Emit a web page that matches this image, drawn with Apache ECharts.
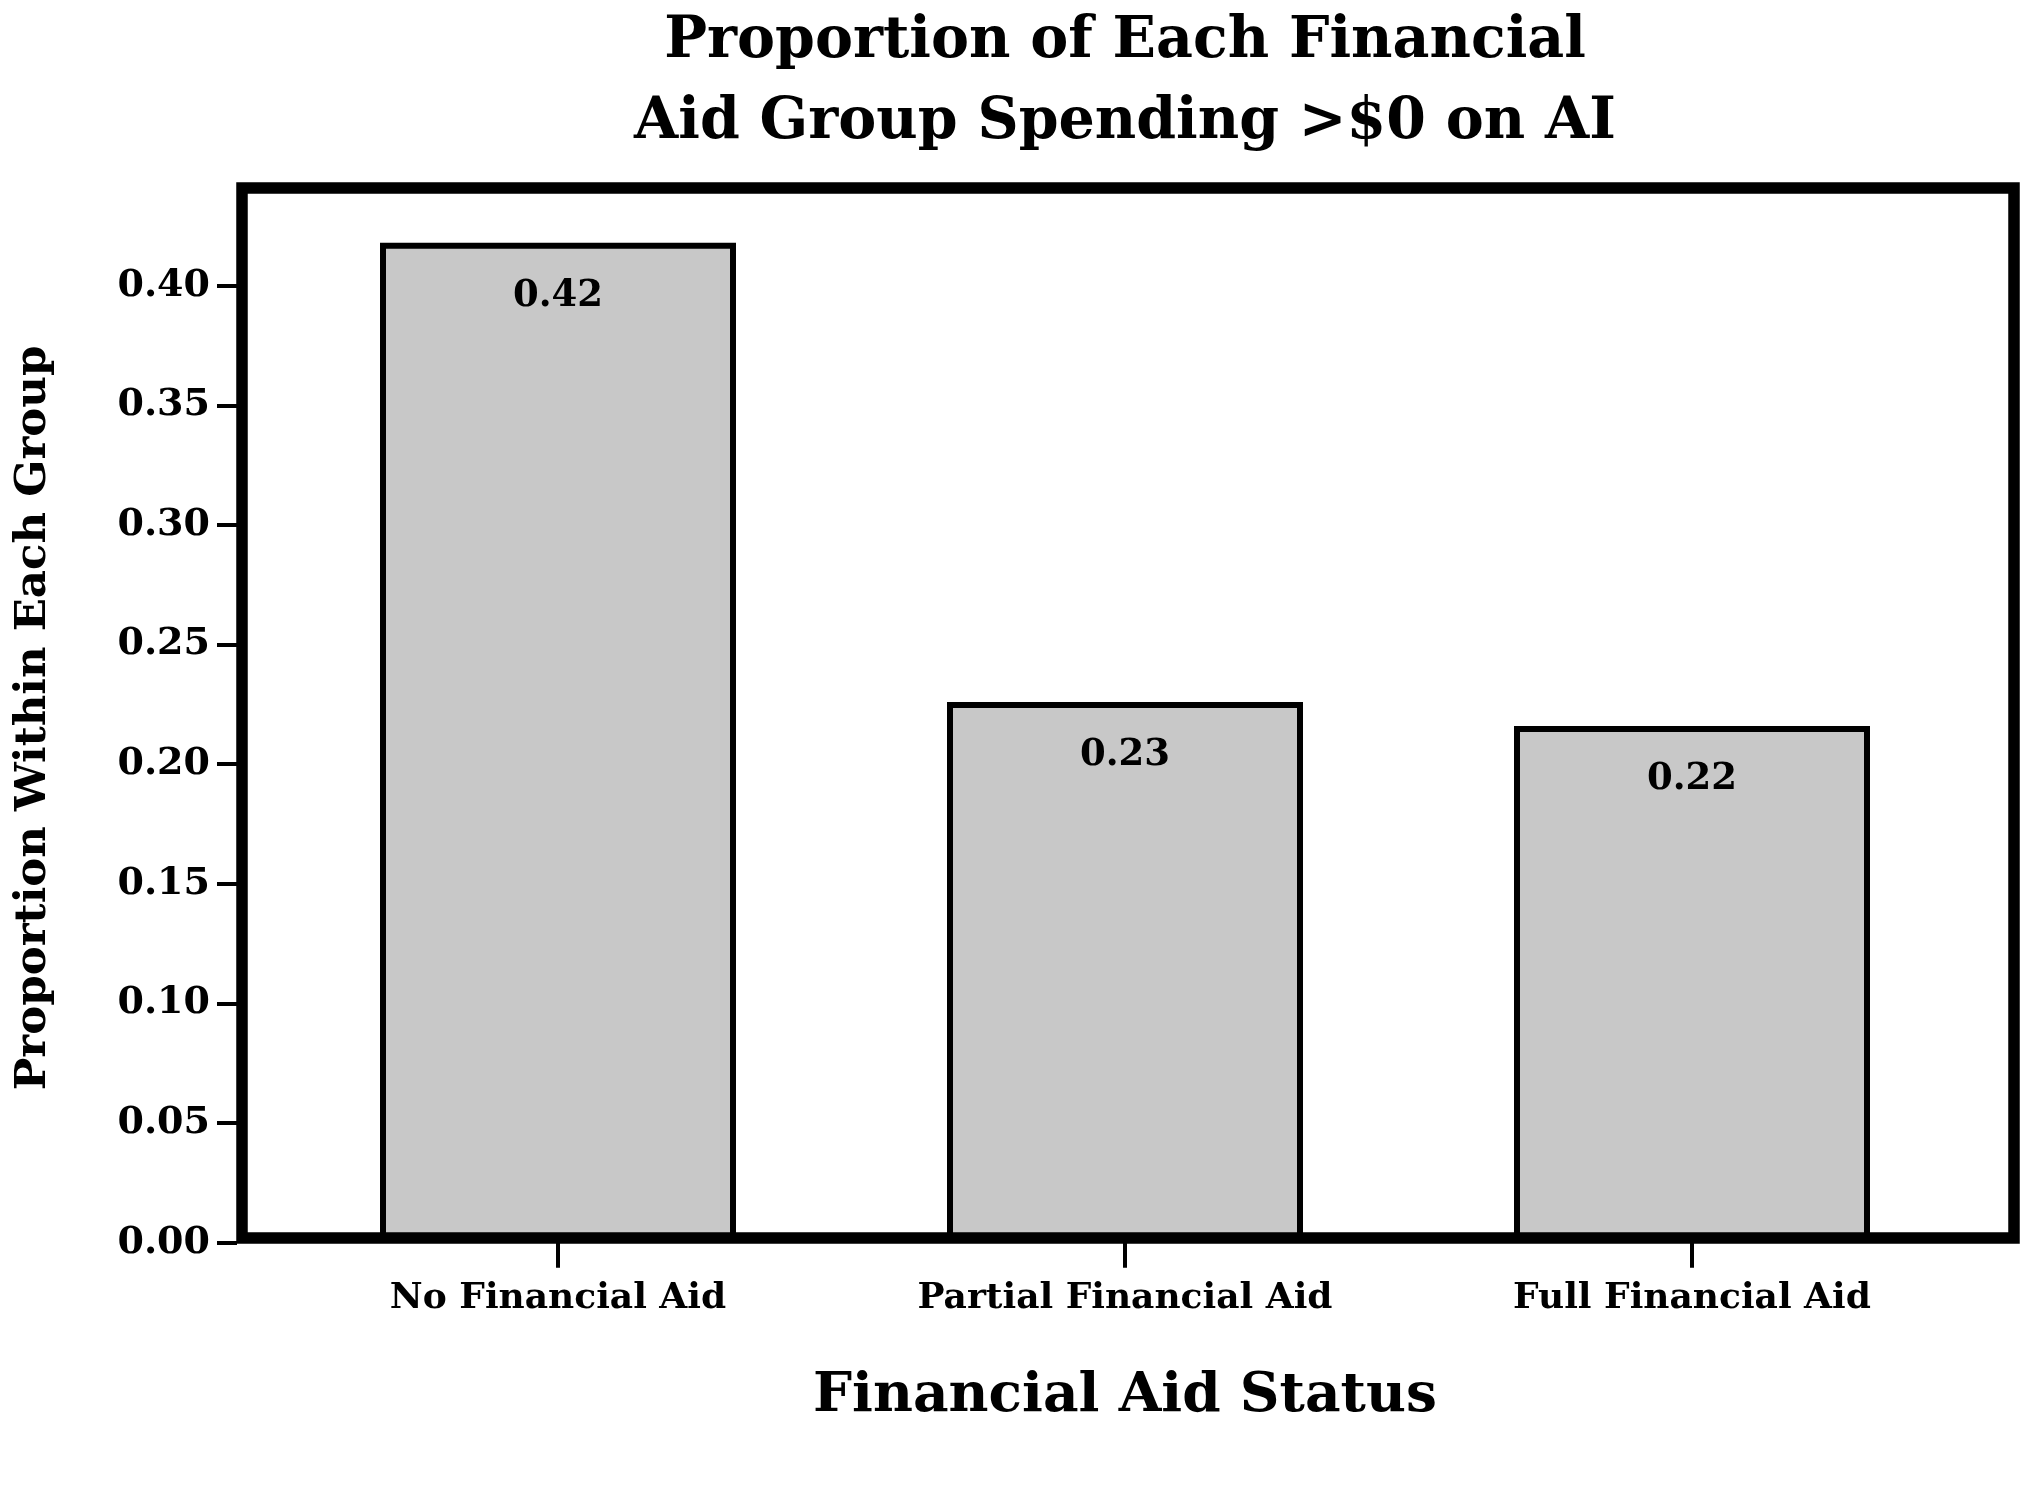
<!DOCTYPE html>
<html>
<head>
<meta charset="utf-8">
<script src="https://cdn.jsdelivr.net/npm/echarts@6/dist/echarts.min.js"></script>
<style>
    html, body { margin: 0; padding: 0; background: #fff; }
    #chart { width: 2020px; height: 1507px; }
</style>
</head>
<body>
<div id="chart"></div>
<script>
const aidGroups = ['No Financial Aid', 'Partial Financial Aid', 'Full Financial Aid'];
const proportions = [0.418, 0.226, 0.216];
const yTicks = { min: 0, max: 0.40, step: 0.05 };

const FONT = 'DejaVu Serif';

function initChart() {
    const chart = echarts.init(document.getElementById('chart'), null, { renderer: 'canvas' });
    const option = {
        backgroundColor: '#ffffff',
        animation: false,
        title: {
            text: 'Proportion of Each Financial\nAid Group Spending >$0 on AI',
            left: 1120,
            top: -3,
            textAlign: 'center',
            textStyle: {
                fontFamily: FONT,
                fontWeight: 'bold',
                fontSize: 57,
                lineHeight: 81,
                color: '#000'
            }
        },
        grid: [
            // outer frame
            {
                left: 242, right: 6, top: 188, bottom: 269,
                show: true,
                z: 10,
                backgroundColor: 'transparent',
                borderColor: '#000',
                borderWidth: 11.5
            },
            // plotting area
            { left: 274.5, right: 44.5, top: 285.7, bottom: 264.3 }
        ],
        xAxis: [
            { gridIndex: 0, type: 'value', show: false },
            {
                gridIndex: 1,
                type: 'category',
                data: aidGroups,
                axisLine: { show: false },
                axisTick: { show: true, alignWithLabel: true, length: 25, lineStyle: { color: '#000', width: 4 } },
                axisLabel: { color: '#000', fontFamily: FONT, fontWeight: 'bold', fontSize: 36, margin: 38 },
                name: 'Financial Aid Status',
                nameLocation: 'middle',
                nameGap: 127,
                nameTextStyle: { color: '#000', fontFamily: FONT, fontWeight: 'bold', fontSize: 55 }
            }
        ],
        yAxis: [
            {
                gridIndex: 0,
                type: 'value',
                axisLine: { show: false },
                axisTick: { show: false },
                axisLabel: { show: false },
                splitLine: { show: false },
                name: 'Proportion Within Each Group',
                nameLocation: 'middle',
                nameRotate: 90,
                nameGap: 186,
                nameTextStyle: {
                    color: '#000', fontFamily: FONT, fontWeight: 'bold', fontSize: 43.5,
                    padding: [0, 10, 0, 0]
                }
            },
            {
                gridIndex: 1,
                type: 'value',
                min: yTicks.min,
                max: yTicks.max,
                interval: yTicks.step,
                offset: 37.5,
                axisLine: { show: false },
                axisTick: { show: true, length: 20, lineStyle: { color: '#000', width: 4 } },
                axisLabel: {
                    color: '#000', fontFamily: FONT, fontWeight: 'bold', fontSize: 38, margin: 27,
                    formatter: v => v.toFixed(2)
                },
                splitLine: { show: false }
            }
        ],
        series: [{
            type: 'bar',
            xAxisIndex: 1,
            yAxisIndex: 1,
            data: proportions,
            barWidth: 356,
            clip: false,
            itemStyle: { color: '#c8c8c8', borderColor: '#000', borderWidth: 6 },
            label: {
                show: true,
                position: 'insideTop',
                distance: 35,
                color: '#000',
                fontFamily: FONT,
                fontWeight: 'bold',
                fontSize: 37,
                formatter: p => p.value.toFixed(2)
            }
        }]
    };
    chart.setOption(option);
}

document.addEventListener('DOMContentLoaded', function () {
    initChart();
});
</script>
</body>
</html>
